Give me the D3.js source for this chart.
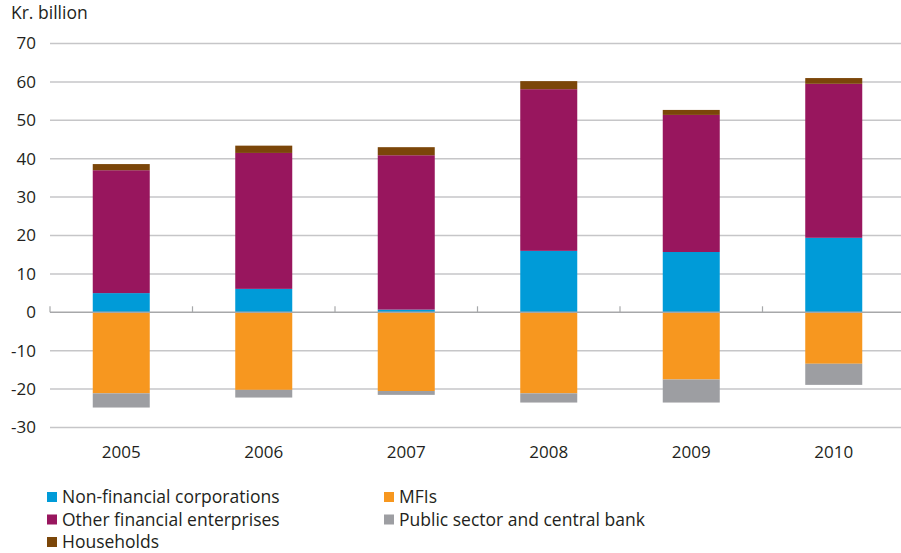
<!DOCTYPE html>
<html>
<head>
<meta charset="utf-8">
<script src="https://cdn.jsdelivr.net/npm/d3@7"></script>
<style>
  html, body { margin: 0; padding: 0; background: #fff; }
  svg { display: block; }
  text { font-family: "Open Sans", "Noto Sans", sans-serif; fill: #231f20; }
</style>
</head>
<body>
<svg id="chart" width="901" height="553"></svg>
<script>
// Net purchases by sector, Kr. billion
const years = ["2005", "2006", "2007", "2008", "2009", "2010"];
const nonFinancial = [5.0, 6.1, 0.7, 16.0, 15.7, 19.4];
const otherFinancial = [32.0, 35.4, 40.2, 42.1, 35.7, 40.1];
const households = [1.6, 1.9, 2.1, 2.1, 1.3, 1.5];
const mfis = [-21.1, -20.2, -20.5, -21.1, -17.5, -13.4];
const publicSector = [-3.7, -2.0, -1.0, -2.4, -6.0, -5.5];
const yTicks = [-30, -20, -10, 0, 10, 20, 30, 40, 50, 60, 70];

const series = [
  { key: "nfc", name: "Non-financial corporations", values: nonFinancial, color: "#009bd8" },
  { key: "ofe", name: "Other financial enterprises", values: otherFinancial, color: "#98165e" },
  { key: "hh", name: "Households", values: households, color: "#7b4609" },
  { key: "mfi", name: "MFIs", values: mfis, color: "#f7971f" },
  { key: "pub", name: "Public sector and central bank", values: publicSector, color: "#9d9ea2" }
];

const rows = years.map((yr, i) => {
  const r = { year: yr };
  series.forEach(s => { r[s.key] = s.values[i]; });
  return r;
});

const stacked = d3.stack()
  .keys(series.map(s => s.key))
  .offset(d3.stackOffsetDiverging)(rows);

const svg = d3.select("#chart");
const plotLeft = 50, plotRight = 905, plotTop = 43.5, plotBottom = 427.5;

const x = d3.scaleBand().domain(years).range([plotLeft, plotRight]).paddingInner(0.6).paddingOuter(0.3);
const xBand = d3.scaleBand().domain(years).range([plotLeft, plotRight]);
const y = d3.scaleLinear().domain([-30, 70]).range([plotBottom, plotTop]);

// Gridlines
svg.append("g")
  .selectAll("line")
  .data(yTicks.filter(t => t !== 0))
  .join("line")
  .attr("x1", plotLeft).attr("x2", 901)
  .attr("y1", d => y(d)).attr("y2", d => y(d))
  .attr("stroke", "#c6c6c8").attr("stroke-width", 1.5);

// Y tick labels
svg.append("g")
  .selectAll("text")
  .data(yTicks)
  .join("text")
  .attr("x", 36)
  .attr("y", d => y(d))
  .attr("dy", "0.35em")
  .attr("text-anchor", "end")
  .attr("font-size", 17)
  .text(d => d);

svg.append("text")
  .attr("x", 11).attr("y", 19)
  .attr("font-size", 17.5)
  .text("Kr. billion");

// Bars
const colorOf = Object.fromEntries(series.map(s => [s.key, s.color]));
svg.append("g")
  .selectAll("g")
  .data(stacked)
  .join("g")
  .attr("fill", d => colorOf[d.key])
  .selectAll("rect")
  .data(d => d)
  .join("rect")
  .attr("x", d => x(d.data.year))
  .attr("width", x.bandwidth())
  .attr("y", d => y(Math.max(d[0], d[1])))
  .attr("height", d => Math.abs(y(d[0]) - y(d[1])));

// Zero axis line with category separators
const axisG = svg.append("g");
axisG.append("line")
  .attr("x1", plotLeft).attr("x2", 901)
  .attr("y1", y(0)).attr("y2", y(0))
  .attr("stroke", "#a7a8aa").attr("stroke-width", 1.5);
axisG.selectAll("line.sep")
  .data(years.map(yr => xBand(yr)))
  .join("line")
  .attr("class", "sep")
  .attr("x1", d => d).attr("x2", d => d)
  .attr("y1", y(0)).attr("y2", y(0) - 6)
  .attr("stroke", "#a7a8aa").attr("stroke-width", 1.2);

// X labels
svg.append("g")
  .selectAll("text")
  .data(years)
  .join("text")
  .attr("x", d => xBand(d) + xBand.bandwidth() / 2)
  .attr("y", 458)
  .attr("text-anchor", "middle")
  .attr("font-size", 17)
  .text(d => d);

// Legend
const legendPos = [
  { key: "nfc", x: 47, y: 497 },
  { key: "mfi", x: 384, y: 497 },
  { key: "ofe", x: 47, y: 519.5 },
  { key: "pub", x: 384, y: 519.5 },
  { key: "hh", x: 47, y: 542 }
];
const byKey = Object.fromEntries(series.map(s => [s.key, s]));
const lg = svg.append("g").selectAll("g").data(legendPos).join("g")
  .attr("transform", d => `translate(${d.x},${d.y})`);
lg.append("rect")
  .attr("x", 0).attr("y", -5).attr("width", 10).attr("height", 10)
  .attr("fill", d => byKey[d.key].color);
lg.append("text")
  .attr("x", 15).attr("y", 0).attr("dy", "0.35em")
  .attr("font-size", 17.5)
  .text(d => byKey[d.key].name);
</script>
</body>
</html>
